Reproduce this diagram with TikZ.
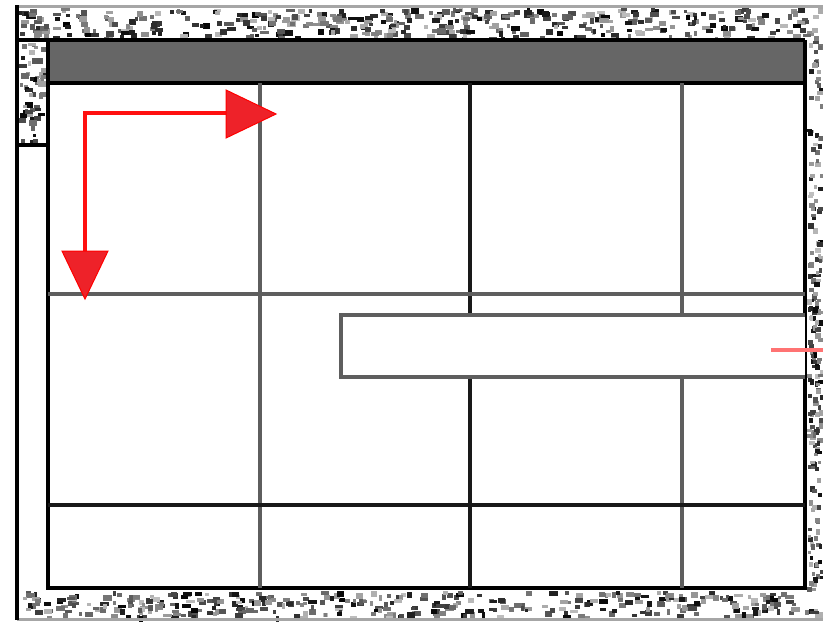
\documentclass[tikz,border=0pt]{standalone}
\usetikzlibrary{calc}
\definecolor{hdr}{HTML}{666666}
\definecolor{gline}{HTML}{5E5E5E}
\definecolor{arrred}{HTML}{EE2229}
\definecolor{linered}{HTML}{FF1010}
\tikzset{
  gridg/.style={draw=gline,line width=3.5pt},
  gridk/.style={draw=black!90,line width=3.5pt},
  frame/.style={draw=black,line width=3.5pt},
  redline/.style={draw=linered,line width=3.5pt},
  redhead/.style={fill=arrred,draw=red,line width=1pt,line join=miter}
}
\begin{document}
\begin{tikzpicture}[x=1pt,y=-1pt]
\useasboundingbox (0,0) rectangle (823,622);
\fill[white] (0,0) rectangle (823,622);
% speckled bands
\pgfmathsetseed{7}
\foreach \i in {1,...,420}{
  \pgfmathsetmacro\xx{17+803*rnd}
  \pgfmathsetmacro\yy{7+30*rnd}
  \pgfmathsetmacro\g{int(25+75*rnd)}
  \pgfmathsetmacro\w{3+6*rnd}
  \pgfmathsetmacro\h{3+3*rnd}
  \fill[black!\g] (\xx,\yy) rectangle ++(\w,\h);
}
\foreach \i in {1,...,380}{
  \pgfmathsetmacro\xx{17+803*rnd}
  \pgfmathsetmacro\yy{591+25*rnd}
  \pgfmathsetmacro\g{int(25+75*rnd)}
  \pgfmathsetmacro\w{3+6*rnd}
  \pgfmathsetmacro\h{3+3*rnd}
  \fill[black!\g] (\xx,\yy) rectangle ++(\w,\h);
}
\foreach \i in {1,...,55}{
  \pgfmathsetmacro\xx{19+24*rnd}
  \pgfmathsetmacro\yy{42+98*rnd}
  \pgfmathsetmacro\g{int(25+75*rnd)}
  \pgfmathsetmacro\w{3+5*rnd}
  \pgfmathsetmacro\h{3+3*rnd}
  \fill[black!\g] (\xx,\yy) rectangle ++(\w,\h);
}
\foreach \i in {1,...,200}{
  \pgfmathsetmacro\xx{807+13*rnd}
  \pgfmathsetmacro\yy{40+548*rnd}
  \pgfmathsetmacro\g{int(25+75*rnd)}
  \pgfmathsetmacro\w{3+3*rnd}
  \pgfmathsetmacro\h{3+3*rnd}
  \fill[black!\g] (\xx,\yy) rectangle ++(\w,\h);
}
% gray edges of the bands
\draw[gray!70,line width=3pt] (17,6) -- (823,6);
\draw[gray!70,line width=3pt] (17,619) -- (823,619);
% header bar
\fill[hdr] (48,40) rectangle (805,83);
\draw[black,line width=3.5pt] (17,40) -- (805,40);
\draw[black,line width=3.5pt] (48,83) -- (805,83);
% outer left line
\draw[frame] (17,5) -- (17,620);
% left column divider
\draw[frame] (17,145) -- (48,145);
% inner frame
\draw[frame] (48,40) -- (48,588) -- (805,588) -- (805,40);
% grid
\draw[gridg] (260,83) -- (260,588);
\draw[gridk] (470,83) -- (470,588);
\draw[gridg] (682,83) -- (682,588);
\draw[gridg] (48,294) -- (805,294);
\draw[gridk] (48,505) -- (805,505);
% bar
\fill[white] (341,315) rectangle (805,377);
\draw[gridg] (805,315) -- (341,315) -- (341,377) -- (805,377);
% red stub
\coordinate (s1) at (771,350);
\coordinate (s2) at (823,350);
\draw[draw=red!55,line width=3.5pt] (s1) -- (s2);
% red arrows
\coordinate (c) at (85,113);
\coordinate (hx) at (226,113);
\coordinate (hy) at (85,251);
\draw[redline] (hx) -- (c) -- (hy);
\draw[redhead] (226,90) -- (276,114) -- (226,138) -- cycle;
\draw[redhead] (62,251) -- (108,251) -- (85,299) -- cycle;
\end{tikzpicture}
\end{document}
